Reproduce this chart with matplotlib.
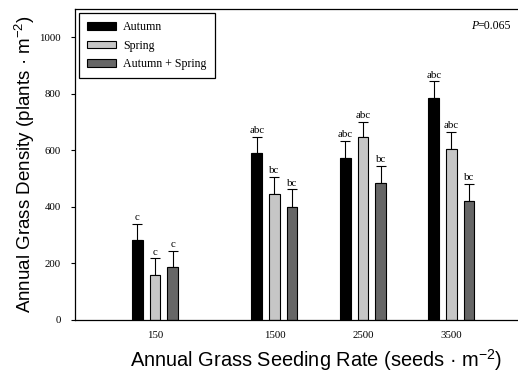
import numpy as np
import matplotlib.pyplot as plt

# densidad de gramineas anuales segun dosis de siembra y epoca
rates = [150, 1500, 2500, 3500]
rate_labels = ['150', '1500', '2500', '3500']
series = ['Autumn', 'Spring', 'Autumn + Spring']
autumn = [282, 589, 573, 785]
spring = [158, 447, 646, 606]
both = [186, 401, 485, 420]
autumn_se = [57, 60, 60, 59]
spring_se = [60, 59, 56, 59]
both_se = [59, 61, 61, 61]
autumn_let = ['c', 'abc', 'abc', 'abc']
spring_let = ['c', 'bc', 'abc', 'abc']
both_let = ['c', 'bc', 'bc', 'bc']

colores = ['#000000', '#c6c6c6', '#666666']
offsets = [-200, 0, 200]
ancho = 120

fig = plt.figure(figsize=(5.18, 3.72), dpi=100)
ax = fig.add_axes([0.1448, 0.1398, 0.8552, 0.836])

x = np.array(rates, dtype=float)
datos = [(autumn, autumn_se, autumn_let), (spring, spring_se, spring_let), (both, both_se, both_let)]
for i, (vals, se, let) in enumerate(datos):
    pos = x + offsets[i]
    ax.bar(pos, vals, width=ancho, color=colores[i], edgecolor='black', linewidth=0.8,
           label=series[i], zorder=2)
    ax.errorbar(pos, vals, yerr=[np.zeros(len(se)), se], fmt='none', ecolor='black',
                elinewidth=0.8, capsize=3.6, capthick=0.8, zorder=1)
    for p, v, s, l in zip(pos, vals, se, let):
        ax.text(p, v + s + 6, l, ha='center', va='bottom', family='Liberation Serif', fontsize=7.8)

ax.set_xlim(-754, 4252)
ax.set_ylim(0, 1100)
ax.set_xticks(rates)
ax.set_xticklabels(rate_labels, family='Liberation Serif', fontsize=7.8)
ax.set_yticks([0, 200, 400, 600, 800, 1000])
ax.set_yticklabels(['0', '200', '400', '600', '800', '1000'], family='Liberation Serif', fontsize=7.8)
ax.tick_params(axis='x', length=0, pad=8)
ax.tick_params(axis='y', length=3, width=0.8, direction='out', pad=7)
ax.spines['right'].set_visible(False)
for s in ['left', 'bottom', 'top']:
    ax.spines[s].set_linewidth(0.9)

ax.set_xlabel('Annual Grass Seeding Rate (seeds \u00b7 m$^{\\mathregular{\u22122}}$)',
              family='Liberation Sans', fontsize=14.4)
ax.xaxis.set_label_coords(0.543, -0.088)
ax.set_ylabel('Annual Grass Density (plants \u00b7 m$^{\\mathregular{\u22122}}$)',
              family='Liberation Sans', fontsize=13.5, labelpad=2)

leg = ax.legend(loc='upper left', bbox_to_anchor=(0.0, 1.0), prop={'family': 'Liberation Serif', 'size': 8.6},
                fancybox=False, edgecolor='black', framealpha=1, handlelength=2.45, handleheight=0.6,
                handletextpad=0.55, borderpad=0.7, labelspacing=0.55, borderaxespad=0.3)
leg.get_frame().set_linewidth(0.9)

# P=0.065 con la P en cursiva
t = ax.text(0.985, 0.965, '=0.065', transform=ax.transAxes, ha='right', va='top',
            family='Liberation Serif', fontsize=8.6)
ax.annotate('P', xy=(0, 0), xycoords=t, ha='right', va='bottom',
            family='Liberation Serif', style='italic', fontsize=8.6)

fig.savefig('out.png', dpi=100)
